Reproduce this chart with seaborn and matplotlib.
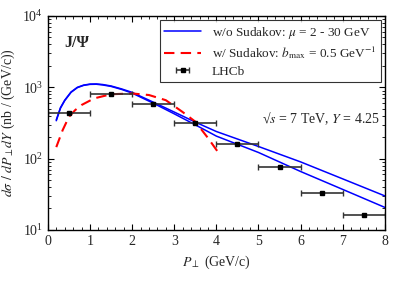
import numpy as np
import pandas as pd
import matplotlib
matplotlib.use("Agg")
import matplotlib.pyplot as plt
import seaborn as sns
from matplotlib.ticker import MultipleLocator, LogLocator, NullFormatter

# data
blue_x = [0.2, 0.3, 0.4, 0.55, 0.7, 0.85, 1.0, 1.15, 1.3, 1.5, 1.75, 2.0, 2.5, 3.0, 3.5, 4.0, 5.0, 6.0, 7.0, 8.0]
blue_hi = [350, 520, 660, 860, 1000, 1075, 1110, 1115, 1095, 1045, 950, 850, 620, 450, 325, 240, 148, 90, 52, 30]
blue_lo = [340, 510, 650, 850, 990, 1065, 1100, 1105, 1080, 1030, 935, 830, 600, 425, 298, 207, 122, 66, 37, 20.7]
red_x = [0.2, 0.35, 0.5, 0.65, 0.8, 1.1, 1.5, 2.0, 2.4, 2.8, 3.2, 3.5, 3.8, 4.1]
red_y = [145, 250, 385, 480, 565, 700, 800, 820, 780, 660, 450, 330, 195, 110]
lhcb_x = [0.5, 1.5, 2.5, 3.5, 4.5, 5.5, 6.5, 7.5]
lhcb_y = [440, 805, 583, 313, 160, 75.5, 33.3, 16.3]
lhcb_xerr = [0.5] * 8

sns.set_theme(style="ticks")
plt.rcParams['font.family'] = ['Liberation Serif', 'DejaVu Serif']
plt.rcParams['mathtext.fontset'] = 'stix'

fig = plt.figure(figsize=(4.09, 2.86), dpi=100)
ax = fig.add_axes([0.117, 0.196, 0.824, 0.748])

sns.lineplot(x=blue_x, y=blue_hi, ax=ax, color='#0000ff', lw=1.1,
             label=r'w/o Sudakov: $\mu$ = 2 - 30 GeV', sort=False)
sns.lineplot(x=blue_x, y=blue_lo, ax=ax, color='#0000ff', lw=1.1, sort=False)
sns.lineplot(x=red_x, y=red_y, ax=ax, color='#ff0000', lw=1.5, sort=False,
             label=r'w/ Sudakov: $b_{\rm max}$ = 0.5 GeV$^{-1}$')
ax.lines[-1].set_dashes([5, 3])
ax.errorbar(lhcb_x, lhcb_y, xerr=lhcb_xerr, fmt='s', ms=3.5, color='black',
            ecolor='#333333', elinewidth=1.2, capsize=2.5, capthick=1, label='LHCb')

ax.set_yscale('log')
ax.set_xlim(0, 8)
ax.set_ylim(10, 1e4)
ax.xaxis.set_major_locator(MultipleLocator(1))
ax.xaxis.set_minor_locator(MultipleLocator(0.2))
ax.yaxis.set_major_locator(LogLocator(base=10, numticks=10))
ax.yaxis.set_minor_locator(LogLocator(base=10, subs=np.arange(2, 10), numticks=10))
ax.yaxis.set_minor_formatter(NullFormatter())
ax.tick_params(which='both', direction='in', top=True, right=True, labelsize=10,
               color='black')
ax.tick_params(which='major', length=4, width=0.8)
ax.tick_params(which='minor', length=2, width=0.6)
for s in ax.spines.values():
    s.set_linewidth(1.0)
    s.set_color('black')

ax.set_xlabel(r'$P_{\perp}$ (GeV/c)', fontsize=10)
ax.set_ylabel(r'$d\sigma\ /\ dP_{\perp}dY$ (nb / (GeV/c))', fontsize=10)

ax.text(0.05, 0.875, 'J/Ψ', transform=ax.transAxes, fontsize=11.5,
        fontweight='bold', va='center')
ax.text(0.985, 0.52, r'√$s$ = 7 TeV, $Y$ = 4.25', transform=ax.transAxes,
        fontsize=10, ha='right', va='center')

leg = ax.legend(loc='upper right', fontsize=9.5, frameon=True, fancybox=False,
                edgecolor='black', borderpad=0.35, labelspacing=0.3,
                handlelength=2.8, borderaxespad=0.3)
leg.get_frame().set_linewidth(0.8)

fig.savefig('out.png', dpi=100)
